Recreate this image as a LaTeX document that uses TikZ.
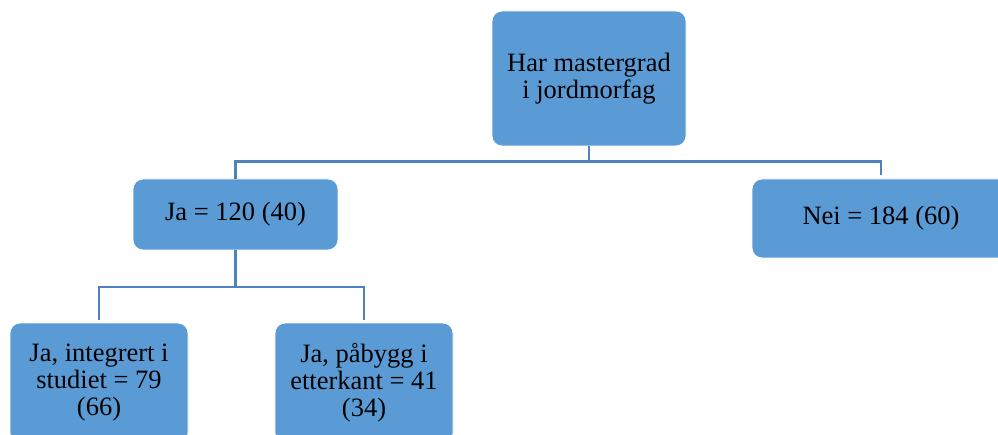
\documentclass[tikz,border=0pt]{standalone}
\usepackage{fontspec}
\setmainfont{Liberation Serif}
\usepackage{tikz}
\usetikzlibrary{positioning}
\definecolor{boxblue}{HTML}{5B9BD5}
\definecolor{linkblue}{HTML}{4F81BD}

\begin{document}
\begin{tikzpicture}[x=1pt,y=1pt,
        box/.style={rectangle,rounded corners=10pt,fill=boxblue,draw=white,line width=0.8pt,
            align=center,inner sep=4pt,font=\fontsize{26.5}{27}\selectfont},
        link/.style={draw=linkblue,line width=2.6pt}]
    \useasboundingbox (0,0) rectangle (998,434);

    \node[box,minimum width=194pt,minimum height=135pt] (top) at (589,355.5) {Har mastergrad\\i jordmorfag};
    \node[box,minimum width=205pt,minimum height=71pt] (ja) at (235.5,219.5) {Ja = 120 (40)};
    \node[box,minimum width=258pt,minimum height=79pt] (nei) at (881,215.5) {Nei = 184 (60)};
    \node[box,minimum width=178pt,minimum height=120pt] (integrert) at (99,51) {Ja, integrert i\\studiet = 79\\(66)};
    \node[box,minimum width=178pt,minimum height=120pt] (paabygg) at (364,51) {Ja, påbygg i\\etterkant = 41\\(34)};

    \coordinate[below=15pt of top] (topjoin);
    \coordinate[below=36.5pt of ja] (jajoin);

    \draw[link] (top.south) -- (topjoin) -| (ja.north);
    \draw[link] (topjoin) -| ([yshift=4pt]nei.north);
    \draw[link] (ja.south) -- (jajoin) -| ([yshift=3pt]integrert.north);
    \draw[link] (jajoin) -| ([yshift=3pt]paabygg.north);
\end{tikzpicture}
\end{document}
